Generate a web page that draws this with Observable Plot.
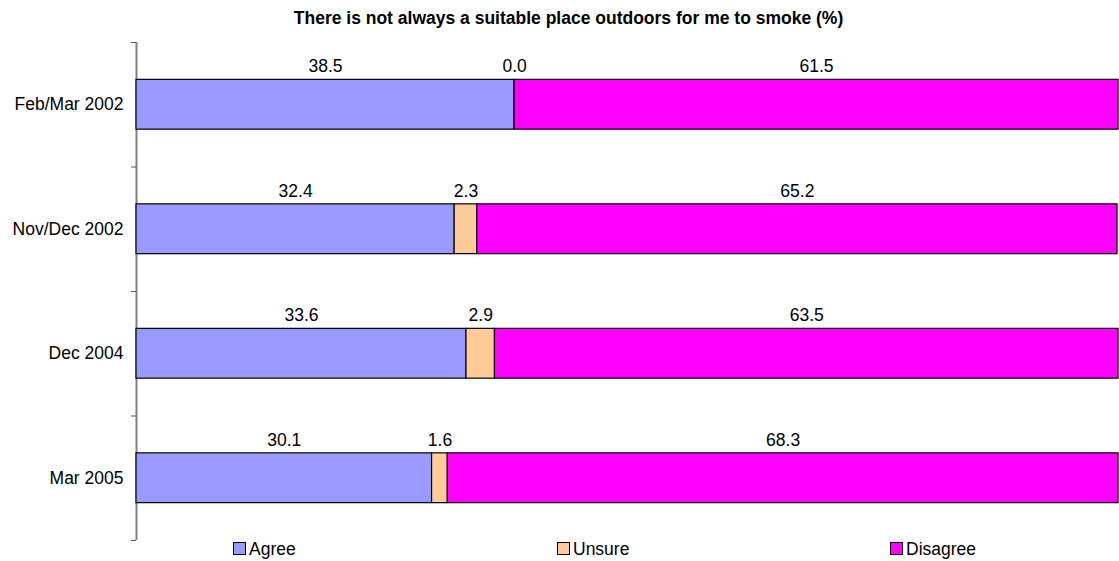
<!DOCTYPE html>
<html><head><meta charset="utf-8">
<script src="https://cdn.jsdelivr.net/npm/d3@7"></script>
<script src="https://cdn.jsdelivr.net/npm/@observablehq/plot@0.6"></script>
<style>
body{margin:0;background:#fff;font-family:Arial,"Liberation Sans",sans-serif;}
#title{height:36px;line-height:36px;font-weight:bold;font-size:17.5px;text-align:center;padding-left:18px;box-sizing:border-box;width:1119px;color:#000;}
#legend{position:relative;height:20px;width:1119px;font-size:17.5px;color:#000;}
.sw{position:absolute;top:1px;width:11px;height:11px;border:1px solid #000;}
.lt{position:absolute;top:0;line-height:17.5px;white-space:nowrap;}
</style></head><body>
<div id="title"></div><div id="chart"></div><div id="legend"></div>
<script>
const title = "There is not always a suitable place outdoors for me to smoke (%)";
const categories = ["Feb/Mar 2002", "Nov/Dec 2002", "Dec 2004", "Mar 2005"];
const responses = ["Agree", "Unsure", "Disagree"];
const agree = [38.5, 32.4, 33.6, 30.1];
const unsure = [0.0, 2.3, 2.9, 1.6];
const disagree = [61.5, 65.2, 63.5, 68.3];
const colors = ["#9999FF", "#FFCC99", "#FF00FF"];
const legendLeft = [233, 557, 890];

document.getElementById("title").textContent = title;

const series = [agree, unsure, disagree];
const rows = [];
categories.forEach((cat, i) => {
  let acc = 0;
  responses.forEach((r, k) => {
    const v = series[k][i];
    rows.push({cat, i, response: r, value: v, x1: acc, x2: acc + v});
    acc += v;
  });
});
const boundaries = d3.range(categories.length + 1);
const centers = categories.map((c, i) => i + 0.5);

const chart = Plot.plot({
  width: 1119, height: 505,
  marginTop: 6, marginBottom: 1, marginLeft: 136, marginRight: 1,
  x: {domain: [0, 100], axis: null},
  y: {domain: [0, categories.length], reverse: true, axis: null},
  color: {domain: responses, range: colors},
  style: {fontFamily: "Arial, 'Liberation Sans', sans-serif", fontSize: "17.5px", background: "white", color: "black"},
  marks: [
    Plot.ruleX([0], {y1: 0, y2: categories.length, stroke: "#808080", strokeWidth: 2}),
    Plot.axisY(boundaries, {tickSize: 5, tickFormat: () => "", stroke: "#555", strokeOpacity: 1}),
    Plot.axisY(centers, {tickSize: 0, tickPadding: 13, tickFormat: d => categories[Math.floor(d)], fontSize: 17.5, fill: "black"}),
    Plot.rect(rows, {x1: "x1", x2: "x2", y1: d => d.i + 0.3, y2: d => d.i + 0.7, fill: "response", stroke: "black", strokeWidth: 1.2}),
    Plot.text(rows, {x: d => (d.x1 + d.x2) / 2, y: d => d.i + 0.5, text: d => d.value.toFixed(1), dy: -38, fill: "black", fontSize: 17.5})
  ]
});
document.getElementById("chart").appendChild(chart);

const lg = document.getElementById("legend");
responses.forEach((r, k) => {
  const sw = document.createElement("div");
  sw.className = "sw"; sw.style.left = legendLeft[k] + "px"; sw.style.background = colors[k];
  lg.appendChild(sw);
  const t = document.createElement("div");
  t.className = "lt"; t.style.left = (legendLeft[k] + 16) + "px"; t.textContent = r;
  lg.appendChild(t);
});
</script>
</body></html>
